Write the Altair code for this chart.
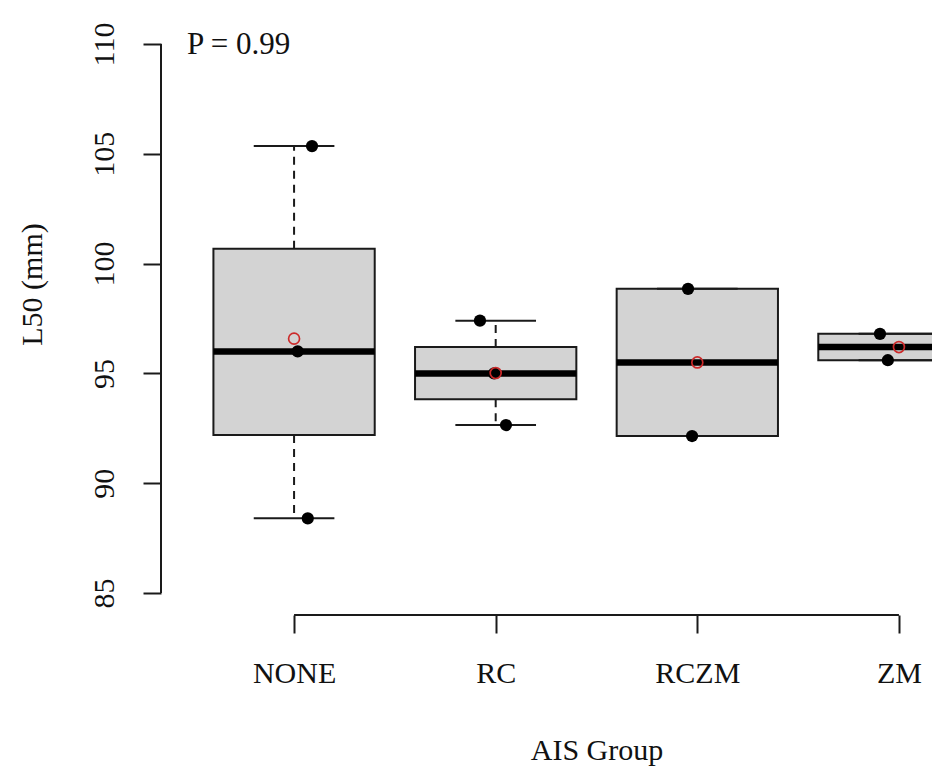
import altair as alt
import numpy as np
import pandas as pd

# ---- data ----
groups = ["NONE", "RC", "RCZM", "ZM"]
none_vals = [105.35, 96.0, 88.4]
rc_vals = [97.4, 95.0, 92.65]
rczm_vals = [98.85, 92.15]
zm_vals = [96.8, 95.6]
# horizontal jitter of the raw points (in category units)
none_jit = [0.089, 0.018, 0.068]
rc_jit = [-0.078, -0.008, 0.051]
rczm_jit = [-0.046, -0.026]
zm_jit = [-0.094, -0.055]
y_ticks = [85, 90, 95, 100, 105, 110]
p_label = "P = 0.99"
x_title = "AIS Group"
y_title = "L50 (mm)"

values = [none_vals, rc_vals, rczm_vals, zm_vals]
jitters = [none_jit, rc_jit, rczm_jit, zm_jit]


def fivenum(v):
    x = sorted(v)
    n = len(x)
    n4 = np.floor((n + 3) / 2) / 2
    d = [1, n4, (n + 1) / 2, n + 1 - n4, n]
    return [0.5 * (x[int(np.floor(di)) - 1] + x[int(np.ceil(di)) - 1]) for di in d]


boxwex = 0.8
rows = []
pts = []
for i, (g, v, j) in enumerate(zip(groups, values, jitters)):
    pos = i + 1
    lo, q1, med, q3, hi = fivenum(v)
    rows.append(dict(group=g, pos=pos, lo=lo, q1=q1, med=med, q3=q3, hi=hi,
                     mean=float(np.mean(v)),
                     left=pos - boxwex / 2, right=pos + boxwex / 2,
                     sl=pos - boxwex / 4, sr=pos + boxwex / 4))
    for val, jj in zip(v, j):
        pts.append(dict(group=g, xj=pos + jj, val=val))
box_df = pd.DataFrame(rows)
pts_df = pd.DataFrame(pts)
axis_df = pd.DataFrame({"ymin": [min(y_ticks)], "ymax": [max(y_ticks)],
                        "xmin": [1], "xmax": [len(groups)]})
txt_df = pd.DataFrame({"t": [p_label]})

# ---- layout ----
W, H = 771, 593
FONT = "Liberation Serif"
INK = "#1a1a1a"

xs = alt.Scale(domain=[0.34, 4.164], nice=False, zero=False)
ys = alt.Scale(domain=[84, 111], nice=False, zero=False)

label_expr = "[" + ",".join("'%s'" % g for g in groups) + "][datum.value - 1]"

xax = alt.Axis(values=list(range(1, len(groups) + 1)), labelExpr=label_expr,
               domain=False, grid=False, tickSize=18, tickWidth=2, tickColor=INK,
               labelFont=FONT, labelFontSize=30, labelColor="#111",
               labelBaseline="alphabetic", labelPadding=49, labelFlush=False,
               labelOverlap=False, title=x_title, titleFont=FONT, titleFontSize=30,
               titleFontWeight="normal", titleColor="#111", titleX=435.5, titleY=144,
               titleAlign="center", titleBaseline="alphabetic", titleAngle=0)
yax = alt.Axis(values=y_ticks, format="d", domain=False, grid=False, tickSize=18,
               tickWidth=2, tickColor=INK, labelFont=FONT, labelFontSize=30,
               labelColor="#111", labelAngle=270, labelAlign="center",
               labelBaseline="alphabetic", labelPadding=30, labelFlush=False,
               labelOverlap=False, title=y_title, titleFont=FONT, titleFontSize=30,
               titleFontWeight="normal", titleColor="#111", titleX=-120, titleY=262,
               titleAngle=270, titleAlign="center", titleBaseline="alphabetic")

base = alt.Chart(box_df)

boxes = base.mark_rect(fill="#d3d3d3", stroke=INK, strokeWidth=2, clip=True).encode(
    x=alt.X("left:Q", scale=xs, axis=xax), x2="right:Q",
    y=alt.Y("q1:Q", scale=ys, axis=yax), y2="q3:Q")

whisk_up = base.mark_rule(color=INK, strokeWidth=2, strokeDash=[8, 6], clip=True).encode(
    x=alt.X("pos:Q", scale=xs, axis=xax), y=alt.Y("q3:Q", scale=ys, axis=yax), y2="hi:Q")
whisk_lo = base.mark_rule(color=INK, strokeWidth=2, strokeDash=[8, 6], clip=True).encode(
    x=alt.X("pos:Q", scale=xs, axis=xax), y=alt.Y("q1:Q", scale=ys, axis=yax), y2="lo:Q")
staple_hi = base.mark_rule(color=INK, strokeWidth=2, clip=True).encode(
    x=alt.X("sl:Q", scale=xs, axis=xax), x2="sr:Q", y=alt.Y("hi:Q", scale=ys, axis=yax))
staple_lo = base.mark_rule(color=INK, strokeWidth=2, clip=True).encode(
    x=alt.X("sl:Q", scale=xs, axis=xax), x2="sr:Q", y=alt.Y("lo:Q", scale=ys, axis=yax))
median = base.mark_rule(color="black", strokeWidth=6.5, strokeCap="butt", clip=True).encode(
    x=alt.X("left:Q", scale=xs, axis=xax), x2="right:Q", y=alt.Y("med:Q", scale=ys, axis=yax))

points = alt.Chart(pts_df).mark_circle(size=150, color="black", opacity=1, clip=True).encode(
    x=alt.X("xj:Q", scale=xs, axis=xax), y=alt.Y("val:Q", scale=ys, axis=yax))

means = base.mark_point(shape="circle", filled=False, color="#cc2a2a", size=120,
                        strokeWidth=1.7, opacity=1, clip=True).encode(
    x=alt.X("pos:Q", scale=xs, axis=xax), y=alt.Y("mean:Q", scale=ys, axis=yax))

yline = alt.Chart(axis_df).mark_rule(color=INK, strokeWidth=2).encode(
    x=alt.value(0), y=alt.Y("ymin:Q", scale=ys, axis=yax), y2="ymax:Q")
xline = alt.Chart(axis_df).mark_rule(color=INK, strokeWidth=2).encode(
    x=alt.X("xmin:Q", scale=xs, axis=xax), x2="xmax:Q", y=alt.value(H))

ptext = alt.Chart(txt_df).mark_text(align="left", baseline="alphabetic", font=FONT,
                                    fontSize=31, color="#111").encode(
    text="t:N", x=alt.value(26), y=alt.value(32))

chart = alt.layer(boxes, whisk_up, whisk_lo, staple_hi, staple_lo, median, points, means,
                  yline, xline, ptext).properties(
    width=W, height=H,
    autosize=alt.AutoSizeParams(type="none"),
    padding={"left": 161, "top": 22, "right": 0, "bottom": 158},
    background="white",
).configure_view(stroke=None)

chart.save("out.html", embed_options={"renderer": "svg", "actions": False})
